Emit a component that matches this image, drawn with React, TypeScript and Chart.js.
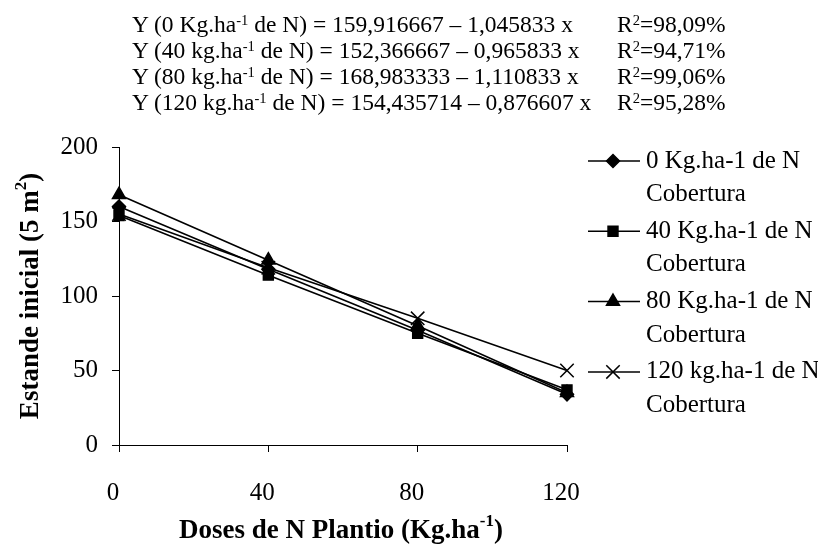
import React, { useEffect, useRef } from 'react';
import { Chart, registerables } from 'chart.js';
import { drawPoint } from 'chart.js/helpers';

Chart.register(...registerables);

// ---- data ----
const doses = [0, 40, 80, 120];
const n0Values = [160, 118, 77, 34];
const n40Values = [154, 114, 75, 37];
const n80Values = [168, 124, 80, 35];
const n120Values = [155, 119, 85, 50];
const seriesNames = ['0 Kg.ha-1 de N', '40 Kg.ha-1 de N', '80 Kg.ha-1 de N', '120 kg.ha-1 de N'];
const seriesSecondLine = 'Cobertura';
const pointStyles = ['rectRot', 'rect', 'triangle', 'crossRot'];
const pointRadii = [6.5, 7, 7.5, 9.5];

const eqDoses = ['0 Kg.ha', '40 kg.ha', '80 kg.ha', '120 kg.ha'];
const eqBodies = [
  '159,916667 – 1,045833 x',
  '152,366667 – 0,965833 x',
  '168,983333 – 1,110833 x',
  '154,435714 – 0,876607 x',
];
const r2Values = ['98,09%', '94,71%', '99,06%', '95,28%'];

const yMin = 0;
const yMax = 200;
const yStep = 50;
const xMin = 0;
const xMax = 120;
const xStep = 40;

const FONT = '"Liberation Serif", "Times New Roman", serif';

type Part = { t: string; sup?: boolean };

function drawRich(ctx: CanvasRenderingContext2D, parts: Part[], cx: number, cy: number, size: number, bold: boolean) {
  const base = `${bold ? 'bold ' : ''}${size}px ${FONT}`;
  const sup = `${bold ? 'bold ' : ''}${Math.round(size * 0.62)}px ${FONT}`;
  let total = 0;
  const widths: number[] = [];
  for (const p of parts) {
    ctx.font = p.sup ? sup : base;
    const w = ctx.measureText(p.t).width;
    widths.push(w);
    total += w;
  }
  let x = cx - total / 2;
  ctx.textAlign = 'left';
  ctx.textBaseline = 'middle';
  ctx.fillStyle = '#000';
  parts.forEach((p, i) => {
    ctx.font = p.sup ? sup : base;
    ctx.fillText(p.t, x, p.sup ? cy - size * 0.36 : cy);
    x += widths[i];
  });
}

const decorPlugin = {
  id: 'decor',
  afterDraw(chart: any) {
    const ctx: CanvasRenderingContext2D = chart.ctx;
    const area = chart.chartArea;
    ctx.save();
    // axis titles
    drawRich(
      ctx,
      [{ t: 'Doses de N Plantio (Kg.ha' }, { t: '-1', sup: true }, { t: ')' }],
      (area.left + area.right) / 2 - 2,
      531,
      27,
      true
    );
    ctx.save();
    ctx.translate(31, (area.top + area.bottom) / 2);
    ctx.rotate(-Math.PI / 2);
    drawRich(ctx, [{ t: 'Estande inicial (5 m' }, { t: '2', sup: true }, { t: ')' }], 0, 0, 27, true);
    ctx.restore();

    // legend
    seriesNames.forEach((name, i) => {
      const y = 161 + i * 70.3;
      ctx.strokeStyle = '#000';
      ctx.fillStyle = '#000';
      ctx.lineWidth = 1.5;
      ctx.beginPath();
      ctx.moveTo(588, y);
      ctx.lineTo(640, y);
      ctx.stroke();
      drawPoint(ctx, { pointStyle: pointStyles[i] as any, radius: pointRadii[i], borderWidth: 1.5, rotation: 0 } as any, 613, y);
      ctx.font = `25px ${FONT}`;
      ctx.textAlign = 'left';
      ctx.textBaseline = 'middle';
      ctx.fillStyle = '#000';
      ctx.fillText(name, 646, y);
      ctx.fillText(seriesSecondLine, 646, y + 33.5);
    });
    ctx.restore();
  },
};

const allValues = [n0Values, n40Values, n80Values, n120Values];

export default function App() {
  const ref = useRef<HTMLCanvasElement | null>(null);

  useEffect(() => {
    if (!ref.current) return;
    const chart = new Chart(ref.current, {
      type: 'line',
      data: {
        datasets: allValues.map((vals, i) => ({
          label: seriesNames[i],
          data: doses.map((d, j) => ({ x: d, y: vals[j] })),
          borderColor: '#000',
          backgroundColor: '#000',
          borderWidth: 1.6,
          pointStyle: pointStyles[i] as any,
          pointRadius: pointRadii[i],
          pointBorderWidth: 1.5,
          pointBackgroundColor: '#000',
          pointBorderColor: '#000',
          tension: 0,
          clip: false as any,
        })),
      },
      options: {
        animation: false,
        responsive: false,
        devicePixelRatio: 1,
        layout: { padding: { top: 147, right: 251, left: 0, bottom: 0 } },
        plugins: {
          legend: { display: false },
          tooltip: { enabled: false },
          title: { display: false },
        },
        scales: {
          x: {
            type: 'linear',
            min: xMin,
            max: xMax,
            afterFit: (s: any) => {
              s.height = 105;
            },
            afterBuildTicks: (s: any) => {
              s.ticks = doses.map((v) => ({ value: v }));
            },
            ticks: {
              stepSize: xStep,
              color: '#000',
              font: { family: FONT, size: 25 },
              padding: 26,
              labelOffset: -6,
              maxRotation: 0,
            },
            grid: { drawOnChartArea: false, tickLength: 7, color: '#000', lineWidth: 1 },
            border: { color: '#000', width: 1 },
          },
          y: {
            type: 'linear',
            min: yMin,
            max: yMax,
            afterFit: (s: any) => {
              s.width = 119;
            },
            ticks: {
              stepSize: yStep,
              color: '#000',
              font: { family: FONT, size: 25 },
              padding: 14,
            },
            grid: { drawOnChartArea: false, tickLength: 7, color: '#000', lineWidth: 1 },
            border: { color: '#000', width: 1 },
          },
        },
      },
      plugins: [decorPlugin],
    });
    return () => chart.destroy();
  }, []);

  const eqStyle: React.CSSProperties = {
    position: 'absolute',
    left: 132,
    whiteSpace: 'nowrap',
    fontFamily: FONT,
    fontSize: 23.5,
    lineHeight: '26px',
    color: '#000',
  };
  const supStyle: React.CSSProperties = {
    fontSize: '0.62em',
    position: 'relative',
    top: '-0.5em',
    lineHeight: 0,
  };

  return (
    <div style={{ position: 'absolute', left: 0, top: 0, width: 818, height: 550, background: '#fff' }}>
      <canvas ref={ref} width={818} height={550} style={{ display: 'block', width: 818, height: 550 }} />
      {eqDoses.map((d, i) => (
        <React.Fragment key={i}>
          <div style={{ ...eqStyle, top: 11 + i * 26 }}>
            Y ({d}
            <span style={supStyle}>-1</span> de N) = {eqBodies[i]}
          </div>
          <div style={{ ...eqStyle, left: 617, top: 11 + i * 26 }}>
            R<span style={supStyle}>2</span>={r2Values[i]}
          </div>
        </React.Fragment>
      ))}
    </div>
  );
}
